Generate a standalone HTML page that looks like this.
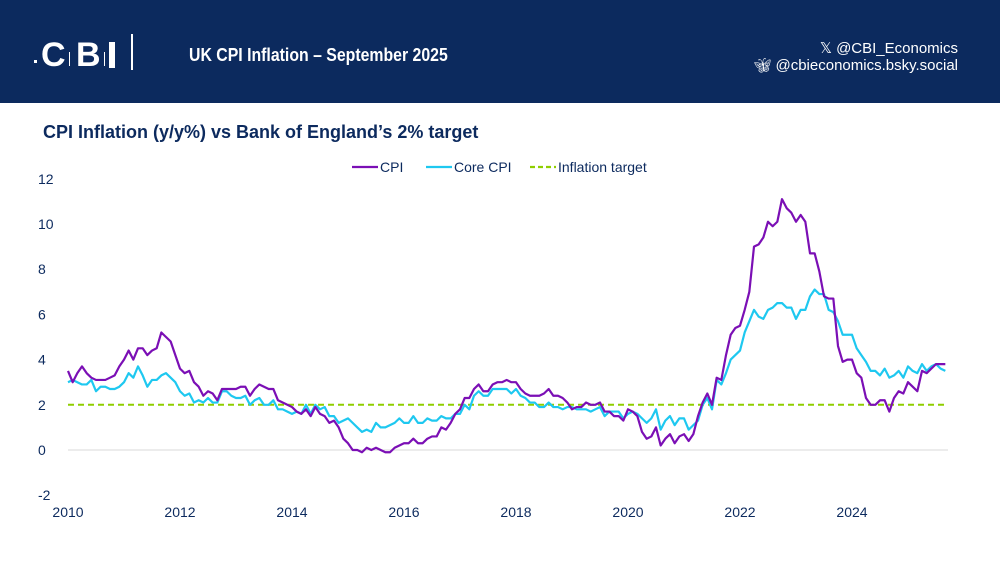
<!DOCTYPE html>
<html><head><meta charset="utf-8"><style>
body{margin:0;width:1000px;height:563px;background:#fff;font-family:"Liberation Sans",sans-serif;overflow:hidden;position:relative}
.hdr{position:absolute;left:0;top:0;width:1000px;height:103px;background:#0c2a5e}
.sep{position:absolute;width:1px;background:#fff}
</style></head><body>
<div class="hdr">
<div style="position:absolute;left:34px;top:38px;width:110px;height:40px;color:#fff">
<span style="position:absolute;left:0;top:22px;width:3px;height:3px;background:#fff"></span>
<span style="position:absolute;left:7px;top:-2px;font-size:34px;font-weight:bold">C</span>
<span class="sep" style="left:35px;top:14px;height:14px"></span>
<span style="position:absolute;left:42px;top:-2px;font-size:34px;font-weight:bold">B</span>
<span class="sep" style="left:70px;top:14px;height:14px"></span>
<span style="position:absolute;left:75px;top:4px;width:6px;height:26px;background:#fff"></span>
<span class="sep" style="left:97px;top:-4px;height:36px;width:2px"></span>
</div>
<div style="position:absolute;left:189px;top:45px;color:#fff;font-size:18px;font-weight:bold;transform:scaleX(0.88);transform-origin:left">UK CPI Inflation – September 2025</div>
<div style="position:absolute;right:42px;top:39px;color:#fff;font-size:15px">𝕏 @CBI_Economics</div>
<div style="position:absolute;right:42px;top:57px;color:#fff;font-size:15px"><span style="font-size:14px">🦋︎</span> @cbieconomics.bsky.social</div>
</div>
<div style="position:absolute;left:43px;top:122px;color:#0c2a5e;font-size:18px;font-weight:bold">CPI Inflation (y/y%) vs Bank of England’s 2% target</div>
<svg id="chart" width="1000" height="563" style="position:absolute;left:0;top:0"></svg>
<script>
const years=[2010,2012,2014,2016,2018,2020,2022,2024];
const yTicks=[-2,0,2,4,6,8,10,12];
const cpi=[3.5,3.0,3.4,3.7,3.4,3.2,3.1,3.1,3.1,3.2,3.3,3.7,
4.0,4.4,4.0,4.5,4.5,4.2,4.4,4.5,5.2,5.0,4.8,4.2,
3.6,3.4,3.5,3.0,2.8,2.4,2.6,2.5,2.2,2.7,2.7,2.7,
2.7,2.8,2.8,2.4,2.7,2.9,2.8,2.7,2.7,2.2,2.1,2.0,
1.9,1.7,1.6,1.8,1.5,1.9,1.6,1.5,1.2,1.3,1.0,0.5,
0.3,0.0,0.0,-0.1,0.1,0.0,0.1,0.0,-0.1,-0.1,0.1,0.2,
0.3,0.3,0.5,0.3,0.3,0.5,0.6,0.6,1.0,0.9,1.2,1.6,
1.8,2.3,2.3,2.7,2.9,2.6,2.6,2.9,3.0,3.0,3.1,3.0,
3.0,2.7,2.5,2.4,2.4,2.4,2.5,2.7,2.4,2.4,2.3,2.1,
1.8,1.9,1.9,2.1,2.0,2.0,2.1,1.7,1.7,1.5,1.5,1.3,
1.8,1.7,1.5,0.8,0.5,0.6,1.0,0.2,0.5,0.7,0.3,0.6,
0.7,0.4,0.7,1.5,2.1,2.5,2.0,3.2,3.1,4.2,5.1,5.4,
5.5,6.2,7.0,9.0,9.1,9.4,10.1,9.9,10.1,11.1,10.7,10.5,
10.1,10.4,10.1,8.7,8.7,7.9,6.8,6.7,6.7,4.6,3.9,4.0,
4.0,3.4,3.2,2.3,2.0,2.0,2.2,2.2,1.7,2.3,2.6,2.5,
3.0,2.8,2.6,3.5,3.4,3.6,3.8,3.8,3.8];
const core=[3.0,3.1,3.0,2.9,2.9,3.1,2.6,2.8,2.8,2.7,2.7,2.8,
3.0,3.4,3.2,3.7,3.3,2.8,3.1,3.1,3.3,3.4,3.2,3.0,
2.6,2.4,2.5,2.1,2.2,2.1,2.3,2.1,2.1,2.6,2.6,2.4,
2.3,2.3,2.4,2.0,2.2,2.3,2.0,2.0,2.2,1.8,1.8,1.7,
1.6,1.7,1.6,2.0,1.6,2.0,1.8,1.9,1.5,1.5,1.2,1.3,
1.4,1.2,1.0,0.8,0.9,0.8,1.2,1.0,1.0,1.1,1.2,1.4,
1.2,1.2,1.5,1.2,1.2,1.4,1.3,1.3,1.5,1.4,1.4,1.6,
1.6,2.0,1.8,2.4,2.6,2.4,2.4,2.7,2.7,2.7,2.7,2.5,
2.7,2.4,2.3,2.1,2.1,1.9,1.9,2.1,1.9,1.9,1.8,1.9,
1.9,1.8,1.8,1.8,1.7,1.8,1.9,1.5,1.7,1.7,1.7,1.4,
1.6,1.7,1.6,1.4,1.2,1.4,1.8,0.9,1.3,1.5,1.1,1.4,
1.4,0.9,1.1,1.3,2.0,2.3,1.8,3.1,2.9,3.4,4.0,4.2,
4.4,5.2,5.7,6.2,5.9,5.8,6.2,6.3,6.5,6.5,6.3,6.3,
5.8,6.2,6.2,6.8,7.1,6.9,6.9,6.2,6.1,5.7,5.1,5.1,
5.1,4.5,4.2,3.9,3.5,3.5,3.3,3.6,3.2,3.3,3.5,3.2,
3.7,3.5,3.4,3.8,3.5,3.7,3.8,3.6,3.5];
const target=2;
const NS="http://www.w3.org/2000/svg",svg=document.getElementById('chart');
const x=m=>68+m*(56/12), y=v=>450-v*22.6;
function mk(t,a){const e=document.createElementNS(NS,t);for(const k in a)e.setAttribute(k,a[k]);svg.appendChild(e);return e;}
const ax=mk('line',{x1:68,x2:948,y1:y(0),y2:y(0),stroke:'#d9d9d9','stroke-width':1});


yTicks.forEach(v=>{const t=mk('text',{x:38,y:y(v)+5,'font-size':14,fill:'#0c2a5e','font-family':'Liberation Sans'});t.textContent=v;

});
years.forEach(yr=>{const t=mk('text',{x:x((yr-2010)*12),y:517,'font-size':14,fill:'#0c2a5e','text-anchor':'middle','font-family':'Liberation Sans'});t.textContent=yr;

});
const tl=mk('line',{x1:68,x2:948,y1:y(target),y2:y(target),stroke:'#8fce00','stroke-width':2,'stroke-dasharray':'6,4'});


function line(d,c,n){const p=mk('polyline',{points:d.map((v,i)=>x(i)+','+y(v)).join(' '),fill:'none',stroke:c,'stroke-width':2.2,'stroke-linejoin':'round'});

}
line(core,'#1ec8f0','core-cpi-line');
line(cpi,'#7b0fb5','cpi-line');
const leg=[['CPI','#7b0fb5',352,0],['Core CPI','#1ec8f0',426,0],['Inflation target','#8fce00',530,1]];
leg.forEach(([lab,c,lx,d])=>{const l=mk('line',{x1:lx,x2:lx+26,y1:167,y2:167,stroke:c,'stroke-width':2.2});if(d)l.setAttribute('stroke-dasharray','5,3');


const t=mk('text',{x:lx+28,y:172,'font-size':14,fill:'#0c2a5e','font-family':'Liberation Sans'});t.textContent=lab;

});
</script>
</body></html>
